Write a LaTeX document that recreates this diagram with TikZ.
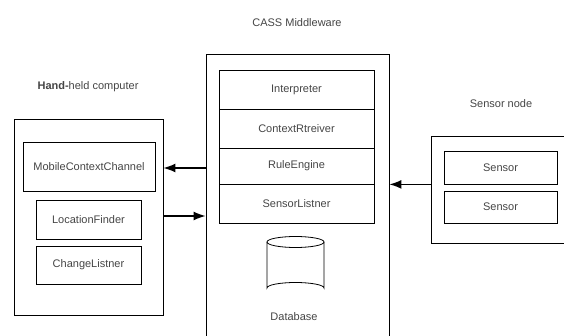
\documentclass[tikz,border=0pt]{standalone}
\usepackage{fontspec}
\setmainfont{Liberation Sans}
\usetikzlibrary{arrows.meta}
\definecolor{txt}{HTML}{454545}
\tikzset{
  box/.style={draw=black, line width=0.8pt, rectangle, inner sep=0pt, text=txt,
              font=\fontsize{11}{13}\selectfont},
  lbl/.style={text=txt, inner sep=0pt, font=\fontsize{11}{13}\selectfont},
  flow/.style={line width=1.5pt, -{Latex[length=12pt,width=9pt]}}
}
\begin{document}
\begin{tikzpicture}[x=1pt,y=-1pt]
  \useasboundingbox (0,0) rectangle (564,336);
  \clip (0,0) rectangle (564,336);

  % hand-held computer
  \node[lbl] (hhl) at (88,87) {\textbf{Hand-}held computer};
  \node[box, minimum width=149pt, minimum height=196pt] (hh) at (88.5,217) {};
  \node[box, minimum width=132pt, minimum height=49pt] (mcc) at (89,166.5) {MobileContextChannel};
  \node[box, minimum width=105pt, minimum height=39pt] (lf) at (88.5,219.5) {LocationFinder};
  \node[box, minimum width=105pt, minimum height=38pt] (cl) at (88.5,265) {ChangeListner};

  % middleware
  \node[lbl] (mwl) at (297,23) {CASS Middleware};
  \node[box, minimum width=183pt, minimum height=291pt] (mw) at (297.5,199.5) {};
  \node[box, minimum width=155pt, minimum height=39pt] (ip) at (296.5,89.5) {Interpreter};
  \node[box, minimum width=155pt, minimum height=39pt] (cr) at (296.5,128.5) {ContextRtreiver};
  \node[box, minimum width=155pt, minimum height=36pt] (re) at (296.5,166) {RuleEngine};
  \node[box, minimum width=155pt, minimum height=39pt] (sl) at (296.5,203.5) {SensorListner};

  % database cylinder
  \coordinate (dbt) at (295.5,242);
  \draw[line width=0.8pt] (267,242) -- (267,288) arc[start angle=180,end angle=360,x radius=28.5pt,y radius=-5.5pt] -- (324,242);
  \draw[line width=0.8pt] (dbt) ellipse[x radius=28.5pt, y radius=5.5pt];
  \node[lbl] (dbl) at (294,317) {Database};

  % sensor node
  \node[lbl] (snl) at (501,104) {Sensor node};
  \node[box, minimum width=139pt, minimum height=107pt] (sn) at (500.5,189.5) {};
  \node[box, minimum width=113pt, minimum height=33pt] (s1) at (500.5,167.5) {Sensor};
  \node[box, minimum width=113pt, minimum height=32pt] (s2) at (500.5,207) {Sensor};

  % connectors
  \coordinate (a1) at (0,168);
  \coordinate (a2) at (0,216);
  \draw[flow] (mw.west |- a1) -- (hh.east |- a1);
  \draw[flow] (hh.east |- a2) -- (mw.west |- a2);
  \draw[flow] (sn.west |- re.south) -- (mw.east |- re.south);
\end{tikzpicture}
\end{document}
